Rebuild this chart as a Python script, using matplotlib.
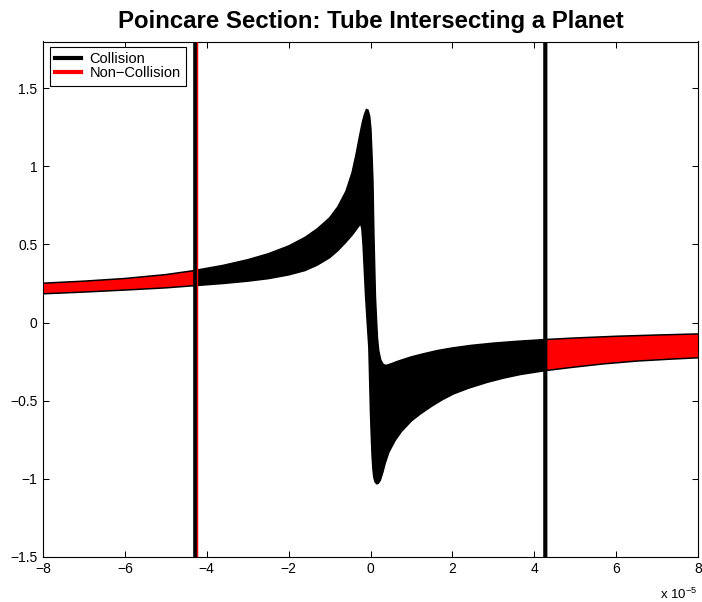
import matplotlib

matplotlib.use("Agg")
import matplotlib.pyplot as plt
from matplotlib.lines import Line2D
from matplotlib.patches import Rectangle

plt.rcParams["font.family"] = ["Liberation Sans", "DejaVu Sans"]
plt.rcParams["mathtext.fontset"] = "custom"
plt.rcParams["mathtext.rm"] = "Liberation Sans"

# tube boundary, x in units of 1e-5
x_upper = [-8.6, -8.0, -7.0, -6.0, -5.0, -4.3, -3.6, -3.0, -2.5, -2.0, -1.6, -1.3,
           -1.0, -0.8, -0.6, -0.45, -0.35, -0.27, -0.20, -0.15, -0.10, -0.06, -0.02,
           0.01, 0.04, 0.06, 0.08, 0.10, 0.12, 0.15, 0.17, 0.20, 0.25, 0.30, 0.36,
           0.42, 0.50, 0.65, 0.81, 1.0, 1.3, 1.63, 2.0, 2.44, 3.0, 3.6, 4.27, 5.0,
           6.0, 7.0, 8.0, 8.6]
y_upper = [0.245, 0.252, 0.265, 0.282, 0.307, 0.333, 0.366, 0.402, 0.440, 0.490, 0.545, 0.600,
           0.670, 0.740, 0.840, 0.960, 1.080, 1.190, 1.280, 1.330, 1.365, 1.360, 1.320,
           1.240, 1.050, 0.900, 0.600, 0.380, 0.170, 0.000, -0.100, -0.180, -0.240, -0.265, -0.275,
           -0.272, -0.265, -0.250, -0.236, -0.220, -0.200, -0.180, -0.163, -0.147, -0.132, -0.120, -0.109, -0.099,
           -0.088, -0.080, -0.073, -0.069]

x_lower = [-8.6, -8.0, -7.0, -6.0, -5.0, -4.3, -3.6, -3.0, -2.5, -2.0, -1.6, -1.3,
           -1.0, -0.8, -0.6, -0.45, -0.35, -0.28, -0.24, -0.21, -0.18, -0.15, -0.12,
           -0.08, -0.04, -0.02, 0.0, 0.02, 0.04, 0.06, 0.08, 0.11, 0.15, 0.19, 0.24,
           0.30, 0.36, 0.45, 0.60, 0.75, 1.0, 1.22, 1.5, 1.75, 2.03, 2.4, 2.85, 3.25,
           3.66, 4.27, 5.0, 5.69, 6.5, 7.3, 8.0, 8.6]
y_lower = [0.178, 0.184, 0.195, 0.208, 0.222, 0.236, 0.250, 0.265, 0.281, 0.305, 0.333, 0.368,
           0.415, 0.460, 0.515, 0.560, 0.595, 0.620, 0.633, 0.600, 0.490, 0.330, 0.170,
           0.000, -0.160, -0.370, -0.580, -0.730, -0.860, -0.940, -0.990, -1.020, -1.033, -1.030, -1.010,
           -0.960, -0.900, -0.830, -0.756, -0.700, -0.630, -0.585, -0.535, -0.495, -0.457, -0.420, -0.383, -0.356,
           -0.333, -0.308, -0.285, -0.265, -0.247, -0.235, -0.226, -0.219]

collision_x = [-4.28, 4.27]
noncollision_x = [-4.225]

x_ticks = [-8, -6, -4, -2, 0, 2, 4, 6, 8]
x_labels = ["\u22128", "\u22126", "\u22124", "\u22122", "0", "2", "4", "6", "8"]
y_ticks = [-1.5, -1, -0.5, 0, 0.5, 1, 1.5]
y_labels = ["\u22121.5", "\u22121", "\u22120.5", "0", "0.5", "1", "1.5"]

fig = plt.figure(figsize=(7.02, 6.02), dpi=100)
ax = fig.add_axes([43 / 702, 1 - 556.7 / 602, 655 / 702, 515.2 / 602])

poly_x = x_upper + x_lower[::-1]
poly_y = y_upper + y_lower[::-1]

# non-collision part of the tube (outside the planet lines)
ax.fill(poly_x, poly_y, color="red", lw=0, zorder=1)
# collision part between the two lines
black_fill = ax.fill(poly_x, poly_y, color="black", lw=0, zorder=2)[0]
clip = Rectangle((collision_x[0], -10), collision_x[1] - collision_x[0], 20,
                 transform=ax.transData)
black_fill.set_clip_path(clip)

ax.plot(x_upper, y_upper, color="black", lw=1.1, zorder=3)
ax.plot(x_lower, y_lower, color="black", lw=1.1, zorder=3)

for xv in collision_x:
    ax.axvline(xv, color="black", lw=3.0, zorder=4, snap=False)
for xv in noncollision_x:
    ax.axvline(xv, color="red", lw=1.0, zorder=5, snap=False)

ax.set_xlim(-8, 8)
ax.set_ylim(-1.5, 1.8)
ax.set_xticks(x_ticks)
ax.set_xticklabels(x_labels)
ax.set_yticks(y_ticks)
ax.set_yticklabels(y_labels)
ax.tick_params(direction="in", top=True, right=True, length=4.5, width=0.75,
               labelsize=10, pad=4)
for s in ax.spines.values():
    s.set_linewidth(0.8)

ax.set_title("Poincare Section: Tube Intersecting a Planet", fontsize=17.3,
             fontweight="bold", pad=10)

handles = [Line2D([], [], color="black", lw=3),
           Line2D([], [], color="red", lw=3)]
leg = ax.legend(handles, ["Collision", "Non\u2212Collision"], loc="upper left",
                bbox_to_anchor=(7 / 655, 1 - 5.8 / 515.2), fontsize=10.5,
                frameon=True, fancybox=False, framealpha=1, edgecolor="black",
                borderpad=0.35, labelspacing=0.0, handlelength=1.75,
                handletextpad=0.6, borderaxespad=0)
leg.get_frame().set_linewidth(0.8)

fig.text(697 / 702, 1 - 599 / 602, r"x 10$^{\mathregular{-5}}$", ha="right",
         va="baseline", fontsize=9.5)

fig.savefig("out.png", dpi=100)
